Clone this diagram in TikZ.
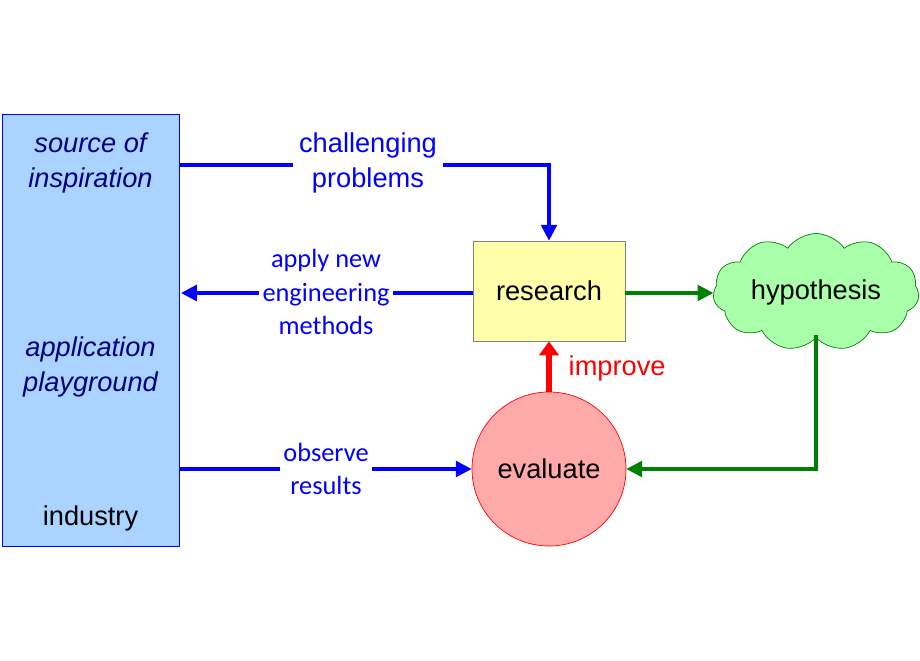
\documentclass[tikz,border=0pt]{standalone}
\usepackage{fontspec}
\setmainfont{Liberation Sans}
\newfontfamily\labelfont{Carlito}
\usetikzlibrary{arrows.meta, shapes.symbols}

\definecolor{boxblue}{HTML}{AAD4FF}
\definecolor{resyellow}{HTML}{FFFFAA}
\definecolor{hypgreen}{HTML}{AAFFAA}
\definecolor{evalred}{HTML}{FFAAAA}
\definecolor{darkgreen}{HTML}{008000}
\definecolor{navy}{HTML}{000080}

\tikzset{
  flow/.style={line width=1.8pt, -{Triangle[length=9pt,width=9pt]}},
  bluelabel/.style={text=blue, font=\labelfont\fontsize{15}{19}\selectfont, align=center, fill=white, inner sep=2pt},
  bigtext/.style={font=\fontsize{15.5}{19.5}\selectfont, align=center}
}

\begin{document}
\begin{tikzpicture}
\useasboundingbox (0,0) rectangle (18.4,13.2);

% industry block
\node[draw=blue, fill=boxblue, minimum width=3.54cm, minimum height=8.64cm] (industry) at (1.81,6.6) {};
\node[bigtext, text=navy, font=\itshape\fontsize{15.5}{19.5}\selectfont] (inspire) at (1.81,9.94) {source of\\inspiration};
\node[bigtext, text=navy, font=\itshape\fontsize{15.5}{19.5}\selectfont] (play) at (1.81,5.86) {application\\playground};
\node[bigtext] (indlabel) at (1.81,2.84) {industry};

% cycle
\node[draw=gray, fill=resyellow, minimum width=3.04cm, minimum height=2cm, bigtext] (research) at (10.98,7.38) {research};
\node[cloud, cloud puffs=11, cloud puff arc=110, aspect=2.2, draw=darkgreen, fill=hypgreen, minimum width=4.1cm, minimum height=2.1cm, bigtext] (hypo) at (16.32,7.36) {hypothesis};
\node[circle, draw=red, fill=evalred, minimum size=3.08cm, bigtext] (evaluate) at (10.98,3.82) {evaluate};

\coordinate (topout) at (3.6,9.9);
\coordinate (midin) at (3.62,7.34);
\coordinate (botout) at (3.6,3.82);

\draw[flow, blue] (topout) -| (research.north);
\draw[flow, blue] (research.west |- midin) -- (midin);
\draw[flow, blue] (botout) -- (evaluate.west);
\draw[flow, darkgreen] (research.east |- 0,7.34) -- (hypo.west |- 0,7.34);
\draw[flow, darkgreen] (16.32,6.5) |- (evaluate.east);
\draw[red, line width=3.5pt, -{Triangle[length=8pt,width=11pt]}] (evaluate.north) -- (research.south);

% labels
\node[bigtext, text=blue, fill=white] (chall) at (7.36,9.94) {challenging\\problems};
\node[bluelabel] (apply) at (6.52,7.36) {apply new\\engineering\\methods};
\node[bluelabel] (observe) at (6.52,3.82) {observe\\results};
\node[bigtext, text=red, anchor=west] (improve) at (11.25,5.84) {improve};
\end{tikzpicture}
\end{document}
